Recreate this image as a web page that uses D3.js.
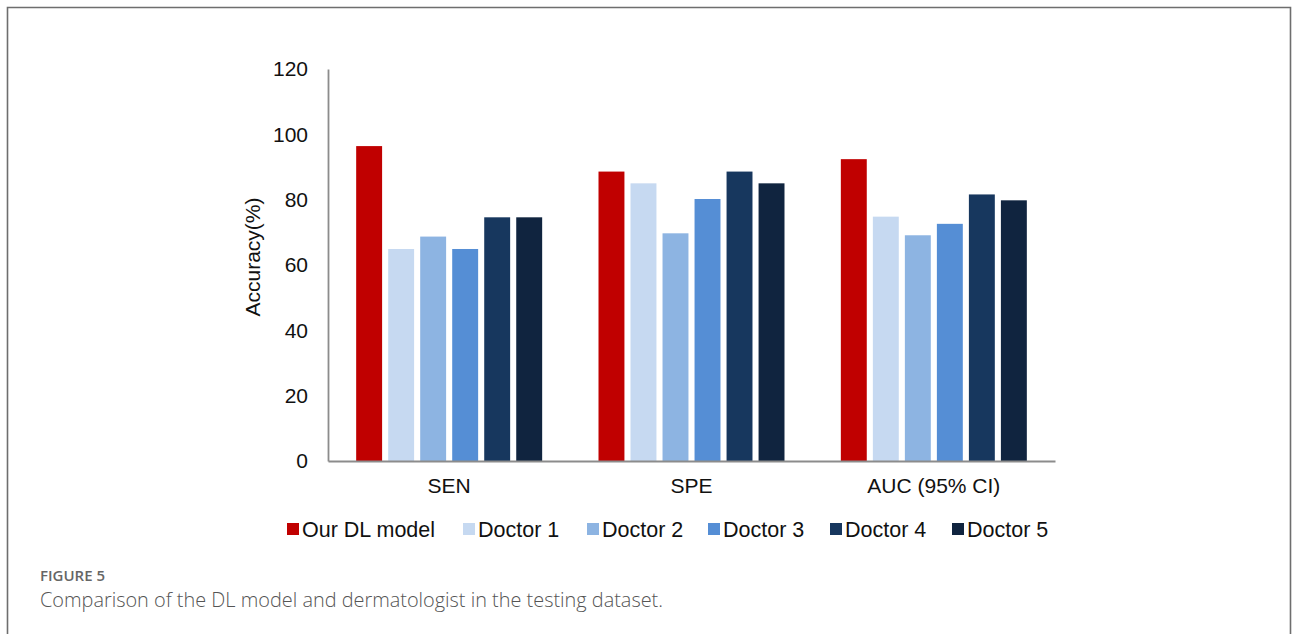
<!DOCTYPE html>
<html>
<head>
<meta charset="utf-8">
<script src="https://cdn.jsdelivr.net/npm/d3@7"></script>
<style>
  html, body { margin: 0; padding: 0; background: #fff; }
  svg { display: block; }
</style>
</head>
<body>
<svg id="chart" width="1293" height="634"></svg>
<script>
// Metric groups along the x axis
const categories = ["SEN", "SPE", "AUC (95% CI)"];
// Readers compared in each group
const seriesNames = ["Our DL model", "Doctor 1", "Doctor 2", "Doctor 3", "Doctor 4", "Doctor 5"];
// Accuracy (%) per reader, one entry per metric group
const ourDL   = [96.4, 88.6, 92.4];
const doctor1 = [64.9, 85.0, 74.8];
const doctor2 = [68.7, 69.7, 69.1];
const doctor3 = [64.9, 80.2, 72.6];
const doctor4 = [74.6, 88.6, 81.6];
const doctor5 = [74.6, 85.0, 79.8];
const seriesValues = [ourDL, doctor1, doctor2, doctor3, doctor4, doctor5];
const seriesColors = ["#c00000", "#c6d9f1", "#8db4e2", "#558ed5", "#17375e", "#10243f"];
const yTicks = [0, 20, 40, 60, 80, 100, 120];

const svg = d3.select("#chart");
const W = 1293, H = 634;

// Figure frame (open at the bottom)
svg.append("path")
  .attr("d", `M7.5,${H} V7.5 H1290.5 V${H}`)
  .attr("fill", "none")
  .attr("stroke", "#6e6e6e")
  .attr("stroke-width", 1.6);

const plot = { left: 328, right: 1055, top: 69, bottom: 461 };

const x0 = d3.scaleBand()
  .domain(categories)
  .range([plot.left, plot.right])
  .padding(0);

const x1 = d3.scaleBand()
  .domain(seriesNames)
  .range([0, x0.bandwidth()])
  .paddingInner(0.19)
  .paddingOuter(0.88);

const y = d3.scaleLinear()
  .domain([0, 120])
  .range([plot.bottom, plot.top]);

const color = d3.scaleOrdinal().domain(seriesNames).range(seriesColors);

// Bars
const rows = categories.map((c, i) => ({
  cat: c,
  vals: seriesNames.map((s, j) => ({ name: s, value: seriesValues[j][i] }))
}));

const groups = svg.append("g").selectAll("g")
  .data(rows)
  .join("g")
  .attr("transform", d => `translate(${x0(d.cat)},0)`);

groups.selectAll("rect")
  .data(d => d.vals)
  .join("rect")
  .attr("x", d => x1(d.name))
  .attr("y", d => y(d.value))
  .attr("width", x1.bandwidth())
  .attr("height", d => y(0) - y(d.value))
  .attr("fill", d => color(d.name));

const labelFont = "'Liberation Sans', Arial, sans-serif";

// Y axis
const yAxis = d3.axisLeft(y).tickValues(yTicks).tickSize(0).tickPadding(20);
const gy = svg.append("g")
  .attr("transform", `translate(${plot.left},0)`)
  .call(yAxis);
gy.select(".domain").attr("stroke", "#8c8c8c").attr("stroke-width", 1.8);
gy.selectAll("text")
  .attr("font-family", labelFont)
  .attr("font-size", 21)
  .attr("fill", "#111");

// X axis
const xAxis = d3.axisBottom(x0).tickSize(0).tickPadding(17);
const gx = svg.append("g")
  .attr("transform", `translate(0,${plot.bottom})`)
  .call(xAxis);
gx.select(".domain").attr("stroke", "#8c8c8c").attr("stroke-width", 1.8);
gx.selectAll("text")
  .attr("font-family", labelFont)
  .attr("font-size", 21)
  .attr("fill", "#111");

// Y axis title
svg.append("text")
  .attr("transform", `translate(260,${(plot.top + plot.bottom) / 2 - 8}) rotate(-90)`)
  .attr("text-anchor", "middle")
  .attr("font-family", labelFont)
  .attr("font-size", 21)
  .attr("fill", "#111")
  .text("Accuracy(%)");

// Legend
const legendX = [287, 463, 587, 708, 830, 952];
const legend = svg.append("g").selectAll("g")
  .data(seriesNames)
  .join("g")
  .attr("transform", (d, i) => `translate(${legendX[i]},529)`);
legend.append("rect")
  .attr("x", 0).attr("y", -6)
  .attr("width", 12).attr("height", 12)
  .attr("fill", d => color(d));
legend.append("text")
  .attr("x", 15).attr("y", 0)
  .attr("dy", "0.35em")
  .attr("font-family", labelFont)
  .attr("font-size", 21.5)
  .attr("fill", "#111")
  .text(d => d);

// Caption
svg.append("text")
  .attr("x", 40).attr("y", 581)
  .attr("font-family", "'Open Sans', 'Noto Sans', sans-serif")
  .attr("font-size", 15)
  .attr("font-weight", 600)
  .attr("fill", "#666")
  .text("FIGURE 5");
svg.append("text")
  .attr("x", 40).attr("y", 607)
  .attr("font-family", "'Open Sans', 'Noto Sans', sans-serif")
  .attr("font-size", 19.9)
  .attr("font-weight", 300)
  .attr("fill", "#555")
  .text("Comparison of the DL model and dermatologist in the testing dataset.");
</script>
</body>
</html>
